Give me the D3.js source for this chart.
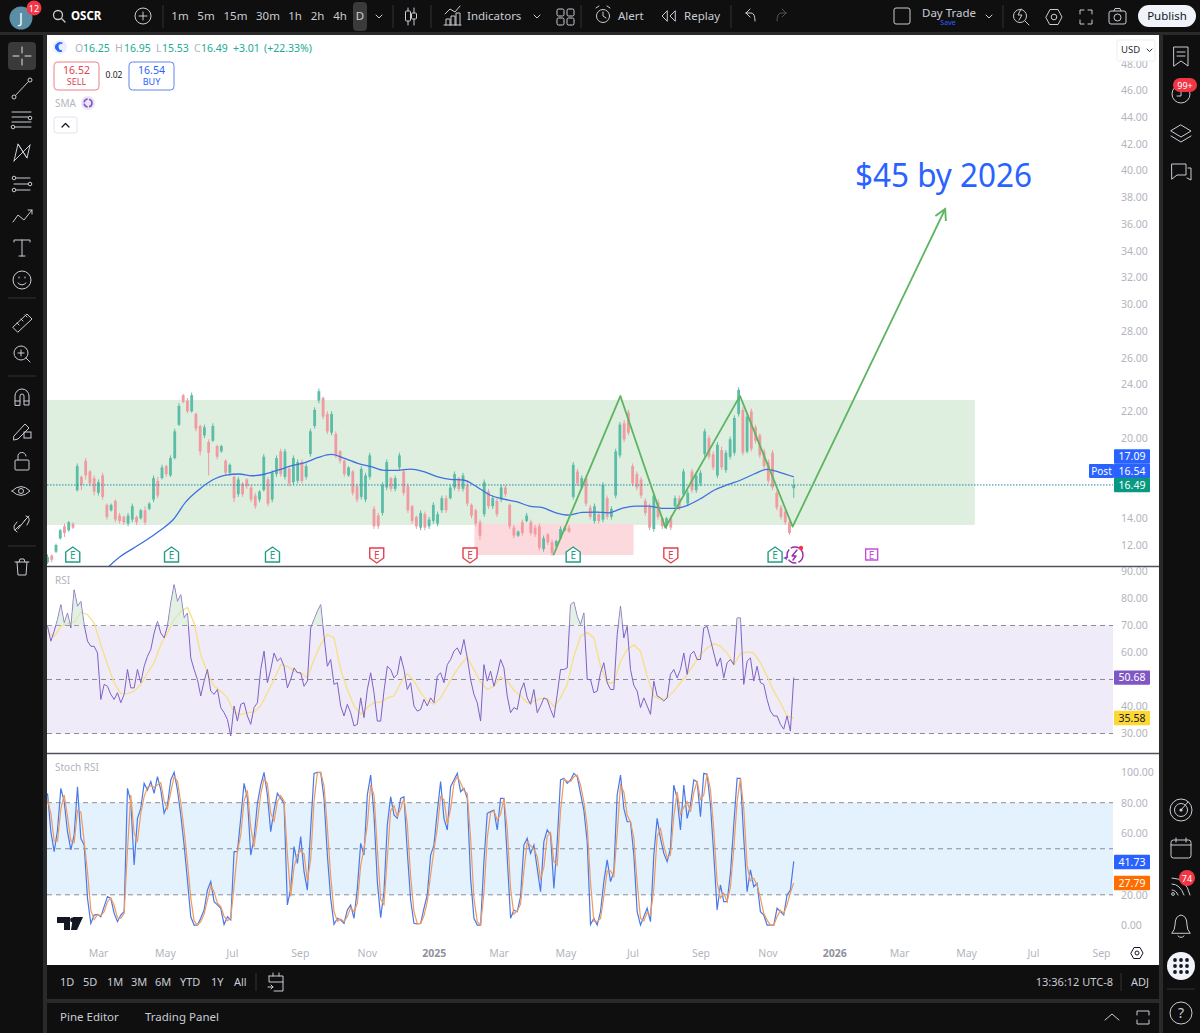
<!DOCTYPE html>
<html>
<head>
<meta charset="utf-8">
<title>OSCR</title>
<script src="https://cdn.jsdelivr.net/npm/d3@7"></script>
<style>
html, body { margin: 0; padding: 0; background: #0f0f0f; overflow: hidden; }
svg { display: block; font-family: "Noto Sans", sans-serif; }
</style>
</head>
<body>
<svg id="chart" width="1200" height="1033"></svg>
<script>
// Daily-ish candles
const highs = [11.3,11.3,12.1,13.2,13.6,13.8,13.7,18.1,17.2,18.5,
17.6,17.2,16.9,17.4,15.1,15.1,15.4,14.4,14.2,14.4,
15.1,14.2,14.7,14.9,15.2,17.2,17.1,18.0,18.0,18.7,
20.7,22.6,23.3,23.0,23.4,21.9,21.0,21.0,19.9,21.1,
19.5,19.5,18.4,18.1,17.2,17.1,16.7,17.0,16.5,15.9,
16.1,18.8,17.1,17.6,18.7,19.2,19.2,17.9,18.7,18.4,
18.4,18.1,20.7,22.3,23.7,23.1,22.0,22.0,20.5,19.1,
18.4,17.9,17.6,16.6,17.9,17.4,18.9,14.9,14.4,16.7,
18.4,17.1,17.2,18.9,17.6,16.6,15.0,14.2,14.6,14.5,
14.1,15.2,14.5,15.7,15.7,16.5,17.5,17.1,17.4,16.7,
15.1,14.7,13.9,16.9,16.2,15.7,15.5,16.5,16.5,15.1,
13.5,13.1,13.9,14.4,13.9,13.5,13.6,12.7,12.9,12.4,
12.4,13.4,13.4,13.5,18.2,17.7,17.2,17.2,15.0,15.1,
14.5,16.7,15.7,14.9,19.2,21.2,21.35,22.1,18.1,17.5,
17.1,15.5,15.1,15.9,15.4,14.1,14.1,14.2,15.7,15.7,
17.7,16.1,17.7,17.4,17.6,20.7,20.2,19.0,19.7,19.35,
19.1,20.1,21.7,23.8,22.3,21.85,22.2,21.0,20.35,19.2,
18.4,19.1,16.1,15.0,14.7,13.9,16.95];
const lows = [10.6,10.7,11.4,12.4,12.6,13.0,13.2,16.0,16.1,16.9,
16.4,15.7,15.7,15.4,13.9,14.5,13.7,13.6,13.5,13.4,
13.7,13.5,13.9,13.5,14.6,15.2,15.5,16.9,17.1,17.1,
18.4,20.9,22.6,21.85,21.9,20.5,18.7,20.0,17.2,19.7,
18.4,18.9,17.2,17.2,15.2,15.6,15.6,16.2,15.2,14.7,
15.2,16.0,14.9,15.2,17.1,17.1,16.9,16.4,16.5,16.6,
16.6,16.9,18.6,20.7,22.6,21.4,20.3,20.2,18.5,18.1,
17.1,17.1,15.7,15.2,15.4,15.2,16.9,13.2,13.2,14.2,
16.1,16.0,16.0,17.6,15.7,14.4,13.6,13.2,13.1,13.1,
13.2,13.6,13.4,14.4,14.4,15.4,16.1,16.0,16.0,14.9,
14.0,13.4,12.4,14.1,14.7,14.7,14.1,15.2,15.6,13.2,
12.5,12.6,12.7,13.7,12.7,12.6,11.6,11.5,12.0,11.2,
11.75,12.4,13.0,12.9,15.4,16.4,16.1,14.9,13.9,13.6,
13.6,13.7,13.9,13.9,15.5,18.5,19.7,20.2,16.4,16.1,
15.5,14.2,13.1,13.0,13.9,13.2,13.2,13.1,14.7,14.6,
15.6,14.9,15.9,15.9,16.4,18.6,18.4,17.6,17.0,17.6,
17.4,18.4,18.7,21.6,18.7,18.85,19.0,19.6,18.5,17.7,
16.6,16.1,14.6,13.9,13.5,12.75,15.53];
const opens = [10.7,11.2,11.5,12.5,13.4,13.1,13.6,16.1,17.1,18.3,
17.5,17.0,15.9,17.2,15.0,14.6,15.3,14.2,14.1,13.6,
13.9,14.1,14.0,14.6,14.7,15.4,16.8,17.0,17.9,17.2,
18.5,21.0,23.2,22.8,22.0,21.8,20.9,20.2,19.7,19.8,
19.4,19.0,18.3,17.4,17.1,15.8,16.6,16.9,16.3,15.7,
15.4,16.1,16.9,15.4,17.3,19.0,17.1,17.7,16.7,16.8,
18.2,17.1,18.8,20.9,22.8,23.0,21.8,20.4,20.3,19.0,
18.3,17.2,17.5,16.4,15.6,15.4,17.1,14.7,14.2,14.4,
16.3,17.0,16.2,17.8,17.5,16.4,14.9,14.1,13.3,14.3,
13.4,13.8,13.6,14.6,15.5,15.5,16.3,17.0,16.2,16.5,
15.0,14.6,13.7,14.3,16.0,14.9,15.3,15.4,16.3,15.0,
13.3,12.7,13.7,13.8,13.7,13.3,13.4,11.7,12.8,12.2,
11.9,12.5,13.1,13.3,15.6,17.5,16.3,17.0,14.8,13.8,
14.3,13.9,15.5,14.1,15.7,18.7,21.1,21.9,17.9,17.3,
16.9,15.3,14.9,13.2,15.2,14.0,13.4,14.0,14.9,15.5,
15.8,15.1,17.5,16.1,16.6,18.8,20.0,18.8,17.2,19.1,
17.6,18.6,18.9,21.8,22.1,19.0,22.0,20.8,20.2,19.0,
18.2,18.9,15.9,14.8,14.5,13.7,16.25];
const closes = [11.1,10.9,12.0,13.1,12.9,13.7,13.3,17.9,16.5,17.2,
16.6,16.0,16.7,15.6,14.1,15.0,13.9,13.8,13.7,14.2,
14.9,13.7,14.6,13.7,15.1,17.0,15.7,17.8,17.3,18.5,
20.5,22.4,22.7,22.0,23.2,20.7,19.0,20.8,18.9,20.9,
18.6,19.4,17.4,18.0,15.5,16.9,15.8,16.4,15.4,14.9,
16.0,18.6,15.1,17.4,18.5,17.3,19.0,16.6,18.5,18.2,
16.8,17.9,20.5,22.1,23.5,21.6,20.5,21.8,18.7,18.3,
17.3,17.8,15.9,15.4,17.7,17.2,18.7,13.4,13.4,16.5,
18.2,16.2,17.0,18.7,15.9,14.6,13.8,13.4,14.4,13.3,
13.9,15.0,14.3,15.5,14.6,16.3,17.3,16.2,17.2,15.1,
14.2,13.6,12.7,16.7,14.9,15.5,14.3,16.3,15.8,13.4,
12.7,13.0,12.9,14.2,12.9,12.8,11.8,12.5,12.2,11.4,
12.3,13.2,13.3,13.0,18.0,16.6,17.0,15.1,14.1,14.9,
13.8,16.5,14.1,14.7,19.0,21.0,19.9,20.4,16.6,16.3,
15.7,14.4,13.3,15.7,14.1,13.4,14.0,13.3,15.5,14.8,
17.5,15.9,16.1,17.2,17.4,20.5,18.6,17.8,19.5,17.8,
18.9,19.9,21.5,23.6,18.9,21.6,19.2,19.8,18.7,17.9,
16.8,16.3,14.8,14.1,13.7,12.9,16.49];

// 200 day SMA, starts a while after the first candle
const smaValues = [10.25,11.12,11.75,12.37,13.07,13.87,15.24,16.16,16.86,17.23,
17.31,17.18,17.31,17.61,17.93,18.16,18.55,18.78,18.48,18.11,
17.86,17.58,17.58,17.68,17.48,17.11,16.91,16.86,16.36,15.74,
15.44,15.24,14.91,14.79,14.41,14.24,14.44,14.46,14.41,14.74,
14.91,14.91,14.74,14.74,14.99,15.49,16.11,16.51,16.86,17.31,
17.66,17.41,17.09];

const rsiValues = [69.7,64.2,67.9,72.2,77.7,70.9,74.6,69.1,83.2,77.1,
78.9,70.3,64.2,62.3,62.3,59.8,42.6,48.2,47.5,44.5,
42.6,45.1,41.4,44.5,53.7,46.9,46.9,53.7,48.8,54.9,
58.6,61.1,67.2,71.5,67.2,65.4,69.7,78.3,85.1,78.9,
81.4,72.8,74.6,58.0,53.7,50.0,43.9,49.4,53.7,45.7,
44.5,46.3,39.6,37.7,35.2,29.1,40.2,34.6,40.8,41.4,
36.5,33.4,39.6,41.4,53.7,60.5,48.8,53.7,59.8,56.8,
58.0,54.9,46.9,50.0,54.3,52.5,52.5,47.5,49.4,69.1,
72.2,75.2,77.7,66.0,54.9,57.4,48.2,48.8,40.2,36.5,
40.8,37.7,32.8,33.4,43.2,35.9,46.3,52.5,45.1,34.6,
34.6,45.7,54.9,53.7,50.6,51.9,58.6,53.7,46.3,48.8,
40.2,38.3,38.9,42.6,40.2,43.2,41.4,
51.2,52.5,48.8,55.5,57.4,60.5,61.7,59.2,64.8,58.0,
50.0,44.5,41.4,34.6,55.5,49.4,53.1,47.5,51.9,57.4,
54.3,43.9,37.7,39.6,38.9,45.7,48.8,43.2,40.8,46.3,
37.7,40.2,43.2,42.6,38.9,35.9,44.5,53.7,53.7,54.3,
77.7,78.7,73.4,70.3,74.6,50.0,50.0,45.1,45.7,52.5,
56.2,48.8,46.3,46.3,66.6,77.1,65.4,69.7,53.7,47.8,
45.7,39.6,43.2,40.2,37.1,49.4,43.9,43.2,42.0,43.2,
51.9,53.7,50.6,53.7,59.8,51.9,59.2,60.5,57.4,57.4,
69.1,69.7,64.8,59.8,54.9,58.0,50.6,56.2,57.4,55.5,
72.8,72.8,48.2,56.8,58.0,49.4,54.9,48.8,48.2,42.6,
38.3,36.5,36.5,33.4,31.6,36.5,30.9,50.68];
const rsiMaValues = [67.2,66.0,69.7,70.7,71.2,75.0,74.0,70.9,62.9,55.5,
48.8,44.8,44.8,45.7,48.2,52.5,56.2,62.9,67.2,72.2,
75.2,76.7,70.9,59.2,52.5,47.5,45.7,43.2,37.7,37.0,
37.7,38.0,40.2,45.1,50.0,55.5,54.9,53.1,52.5,50.6,
57.4,62.9,66.6,65.4,53.7,46.3,40.2,37.1,39.6,41.4,
41.6,43.2,43.9,48.8,52.2,49.4,45.1,42.0,40.8,
43.2,47.5,51.9,55.5,58.2,53.7,49.0,46.3,47.5,51.0,
49.4,46.1,43.9,41.4,42.0,42.9,42.9,39.9,43.2,48.2,
58.6,66.0,67.5,65.4,54.9,48.8,48.8,56.8,61.1,62.8,
60.5,51.2,43.9,42.6,43.2,45.7,48.8,51.9,55.5,59.2,
61.7,63.3,62.3,59.8,55.5,59.6,60.2,59.8,56.2,51.2,
45.7,41.4,36.5,35.58];

const stochK = [86.1,61.1,48.1,62.2,89.4,80.7,61.1,49.2,59.0,90.4,
56.8,52.4,17.7,1.4,6.8,7.3,5.7,12.3,18.8,17.7,
7.9,2.5,6.8,9.0,89.4,80.7,39.4,69.8,76.3,92.6,
88.3,93.7,86.1,97.0,88.3,73.1,78.5,94.8,99.8,88.3,
72.0,52.4,29.6,5.7,0.3,0.3,4.7,10.1,23.1,28.6,
15.5,13.4,11.2,0.7,5.7,3.6,48.1,48.1,69.8,92.6,
82.8,45.9,56.8,79.6,91.5,99.8,85.0,61.1,75.2,86.1,
82.8,79.6,13.4,24.2,51.4,40.5,57.9,35.1,23.1,63.3,
99.1,99.8,99.8,82.8,45.9,17.7,0.7,4.7,3.6,1.4,
10.1,13.4,4.7,24.2,53.5,45.9,85.0,98.0,72.0,28.6,
5.1,22.0,65.5,83.9,72.0,69.8,82.8,83.9,48.1,16.6,
1.4,1.0,1.4,11.2,19.9,45.9,52.4,
74.2,93.7,69.8,62.2,90.4,94.8,99.1,87.2,89.4,82.8,
30.7,4.7,0.3,0.3,41.6,73.1,74.2,75.2,62.2,82.8,
82.8,43.8,4.7,10.1,9.0,18.8,52.4,56.8,47.0,52.4,
37.2,22.0,54.6,62.2,59.0,24.2,54.6,94.8,95.9,92.6,
94.8,99.1,97.0,86.1,75.2,54.6,0.7,4.7,0.3,9.0,
28.6,42.7,28.6,35.1,85.0,98.0,76.3,67.6,67.6,45.9,
9.0,0.3,5.7,11.2,2.5,45.9,69.8,56.8,47.0,41.6,
50.3,91.5,82.8,62.2,91.5,69.8,78.5,94.8,93.7,70.9,
99.1,98.5,78.5,45.9,10.1,26.4,15.5,15.5,34.0,65.5,
95.9,95.9,56.8,22.0,36.2,25.3,27.5,9.0,6.8,0.3,
0.3,0.3,11.2,9.0,6.8,19.9,23.1,41.73];
const stochD = [82,73,55,55,76,85,71,55,54,75,
74,55,35,10,4,7,6.5,9,15.5,18,
13,5,4.6,8,49,85,60,55,73,84,
90,91,90,91.5,93,81,76,87,97,94,
80,62,41,18,3,0.3,2.5,7.4,16.6,26,
22,14.5,12.3,6,3.2,4.6,26,48,59,81,
88,64,51,68,85.5,95.6,92.4,73,68,80.6,
84.5,81,46.5,19,38,46,49,46.5,29,43,
81,99.5,99.8,91,64,32,9,2.7,4.2,2.5,
5.8,11.8,9,14.5,39,50,65.5,91.5,85,50,
17,13.6,44,75,78,71,76,83,66,32,
9,1.2,1.2,6.3,15.6,33,49,
63,84,82,66,76,92.6,97,93,88,86,
57,17.7,2.5,0.3,21,57,73.6,74.7,68.7,72.5,
82.8,63,24,7.4,9.5,14,35.6,54.6,52,49.7,
45,30,38,58,60.6,41.6,39.4,74.7,95.3,94,
93.7,97,98,91.5,80.6,65,28,2.7,2.5,4.6,
19,35.6,35.6,32,60,91.5,87,72,67.6,57,
27.5,4.6,3,8.4,6.8,24,58,63,52,44,
46,71,87,72.5,77,80.6,74,86.6,94,82,
85,98.8,88.5,62,28,18,21,15.5,25,50,
80.7,95.9,76,39,29,30.7,26.4,18,7.9,3.5,
0.3,0.3,5.7,10,7.9,13.4,21.5,27.79];

// axis ticks, the ones hidden behind value tags are left out
const priceTicks = [12,14,20,22,24,26,28,30,32,34,36,38,40,42,44,46,48];
const rsiTicks = [30, 40, 60, 70, 80, 90];
const rsiLevels = [70, 50, 30];
const stochTicks = [0, 20, 60, 80, 100];
const stochLevels = [80, 50, 20];
const timeTickLabels = ["Mar","May","Jul","Sep","Nov","2025","Mar","May","Jul","Sep","Nov","2026","Mar","May","Jul","Sep"];
const timeTickDates = [[2024,2],[2024,4],[2024,6],[2024,8],[2024,10],[2025,0],[2025,2],[2025,4],[2025,6],[2025,8],[2025,10],[2026,0],[2026,2],[2026,4],[2026,6],[2026,8]]
    .map(d => new Date(d[0], d[1], 1));

// drawings on the chart
const pathDates = [new Date(2025,3,20), new Date(2025,5,20), new Date(2025,6,31), new Date(2025,9,7), new Date(2025,10,24), new Date(2026,3,12)];
const pathPrices = [11.25, 23.14, 13.3, 23.15, 13.37, 37.13];
const earningsDates = [new Date(2024,1,7), new Date(2024,4,7), new Date(2024,7,7), new Date(2024,10,10), new Date(2025,1,3), new Date(2025,4,8), new Date(2025,7,5), new Date(2025,10,8), new Date(2026,1,4)];
const earningsKinds = ["beat","beat","beat","miss","miss","beat","miss","beat","next"];

const firstBar = new Date(2024,0,15);
const lastBar = new Date(2025,10,25);
const smaStart = new Date(2024,2,9);

const svg = d3.select("#chart");
const white = "#c9ccd4";

// Time scale is shared by the three panes
const xTime = d3.scaleTime()
    .domain([new Date(2024,2,1), new Date(2026,8,1)])
    .range([98, 1101]);

// Evenly spaced series between two dates
function seriesX(values, from, to) {
    const t = d3.scaleLinear().domain([0, values.length - 1]).range([+from, +to]);
    return (_d, i) => xTime(new Date(t(i)));
}

const yPrice = d3.scaleLinear().domain([12, 46]).range([545, 90.4]);
const yRsi = d3.scaleLinear().domain([30, 70]).range([733.5, 625.5]);
const yStoch = d3.scaleLinear().domain([0, 100]).range([925.5, 772]);

const defs = svg.append("defs");
function clip(id, x, y, w, h) {
    defs.append("clipPath").attr("id", id).append("rect").attr("x", x).attr("y", y).attr("width", w).attr("height", h);
}
clip("clipMain", 47, 35, 1066, 531);
clip("clipRsi", 47, 567, 1066, 186);
clip("clipRsiOver", 47, 567, 1066, 58.5);
clip("clipStoch", 47, 754, 1066, 190);

defs.append("marker").attr("id", "arrowHead")
    .attr("viewBox", "0 0 12 12").attr("refX", 10).attr("refY", 6)
    .attr("markerWidth", 14).attr("markerHeight", 14).attr("markerUnits", "userSpaceOnUse")
    .attr("orient", "auto")
    .append("path").attr("d", "M1,1 L10,6 L1,11").attr("fill", "none").attr("stroke", "#5cb560").attr("stroke-width", 1.6);

function label(parent, x, y, str, opts) {
    const o = opts || {};
    return parent.append("text")
        .attr("x", x).attr("y", y)
        .attr("text-anchor", o.anchor || "start")
        .attr("font-size", o.size || 12)
        .attr("font-weight", o.weight || 400)
        .attr("fill", o.fill || white)
        .text(str);
}

function stroked(parent, d, opts) {
    const o = opts || {};
    return parent.append("path").attr("d", d)
        .attr("fill", o.fill || "none")
        .attr("stroke", o.stroke || white)
        .attr("stroke-width", o.width || 1)
        .attr("stroke-linecap", "round")
        .attr("stroke-linejoin", "round");
}

function at(x, y) {
    return svg.append("g").attr("transform", `translate(${x},${y})`);
}

// ---- panel frame ----
svg.append("rect").attr("width", 1200).attr("height", 1033).attr("fill", "#0f0f0f");
svg.append("rect").attr("x", 43).attr("y", 33).attr("width", 4).attr("height", 1000).attr("fill", "#2a2a2a");
svg.append("rect").attr("x", 1159).attr("y", 33).attr("width", 4).attr("height", 1000).attr("fill", "#2a2a2a");
svg.append("rect").attr("x", 0).attr("y", 32).attr("width", 1200).attr("height", 3).attr("fill", "#2a2a2a");
svg.append("rect").attr("x", 47).attr("y", 35).attr("width", 1112).attr("height", 930).attr("fill", "#fff");
svg.append("rect").attr("x", 47).attr("y", 999).attr("width", 1112).attr("height", 4).attr("fill", "#2a2a2a");

// ---- main pane ----
const main = svg.append("g").attr("clip-path", "url(#clipMain)");

main.append("rect")
    .attr("x", 47).attr("y", yPrice(22.85))
    .attr("width", xTime(new Date(2026,4,9)) - 47)
    .attr("height", yPrice(13.5) - yPrice(22.85))
    .attr("fill", "#deefdf");
main.append("rect")
    .attr("x", xTime(new Date(2025,1,7))).attr("y", yPrice(13.6))
    .attr("width", xTime(new Date(2025,6,2)) - xTime(new Date(2025,1,7)))
    .attr("height", yPrice(11.25) - yPrice(13.6))
    .attr("fill", "#fcd9dd");

const barX = seriesX(closes, firstBar, lastBar);
const barColor = i => closes[i] >= opens[i] ? "#5cbca8" : "#f09aa2";

main.selectAll("line.wick")
    .data(closes)
    .join("line")
    .attr("class", "wick")
    .attr("x1", barX).attr("x2", barX)
    .attr("y1", (_d, i) => yPrice(highs[i]))
    .attr("y2", (_d, i) => yPrice(lows[i]))
    .attr("stroke", (_d, i) => barColor(i))
    .attr("stroke-width", 1);

main.selectAll("rect.body")
    .data(closes)
    .join("rect")
    .attr("class", "body")
    .attr("x", (d, i) => barX(d, i) - 1.4)
    .attr("width", 2.8)
    .attr("y", (d, i) => yPrice(Math.max(d, opens[i])))
    .attr("height", (d, i) => Math.abs(yPrice(d) - yPrice(opens[i])))
    .attr("fill", (_d, i) => barColor(i));

const smaX = seriesX(smaValues, smaStart, lastBar);
main.append("path")
    .attr("d", d3.line().x(smaX).y(d => yPrice(d)).curve(d3.curveMonotoneX)(smaValues))
    .attr("fill", "none").attr("stroke", "#3f6fe0").attr("stroke-width", 1.3);

main.append("line")
    .attr("x1", 47).attr("x2", 1113)
    .attr("y1", yPrice(16.49)).attr("y2", yPrice(16.49))
    .attr("stroke", "#1f8aa0").attr("stroke-width", 1).attr("stroke-dasharray", "1.5 1.5");

main.append("path")
    .attr("d", d3.line().x(d => xTime(d)).y((_d, i) => yPrice(pathPrices[i]))(pathDates))
    .attr("fill", "none").attr("stroke", "#5cb560").attr("stroke-width", 1.8)
    .attr("stroke-linejoin", "round")
    .attr("marker-end", "url(#arrowHead)");

label(svg, 855, 187, "$45 by 2026", {size: 33, fill: "#2962ff"})
    .attr("textLength", 177).attr("lengthAdjust", "spacingAndGlyphs");

// earnings badges
const badgeColor = {beat: "#1f9e85", miss: "#e2404f", next: "#c64fdc"};
const badges = main.selectAll("g.badge")
    .data(earningsDates)
    .join("g")
    .attr("class", "badge")
    .attr("transform", d => `translate(${xTime(d)},555)`);
badges.append("path")
    .attr("d", (_d, i) => earningsKinds[i] === "miss"
        ? "M-7,-7 H7 V3 L0,8 L-7,3 Z"
        : earningsKinds[i] === "beat" ? "M-7,-3 L0,-8 L7,-3 V7 H-7 Z" : "M-6,-6 H6 V5 H-6 Z")
    .attr("fill", "#fff")
    .attr("stroke", (_d, i) => badgeColor[earningsKinds[i]])
    .attr("stroke-width", 1.4);
badges.append("text")
    .attr("text-anchor", "middle").attr("y", 4)
    .attr("font-size", 10)
    .attr("fill", (_d, i) => badgeColor[earningsKinds[i]])
    .text("E");

// dividends / split marker next to the last candle
const bolt = at(795, 555);
bolt.append("circle").attr("r", 8).attr("fill", "#fff").attr("stroke", "#9c27b0").attr("stroke-width", 1.4).attr("stroke-dasharray", "9 2");
stroked(bolt, "M2,-5 L-3,1 H1 L-2,5", {stroke: "#9c27b0", width: 1.4});
bolt.append("circle").attr("cx", 6).attr("cy", -7).attr("r", 2.2).attr("fill", "#f23645");
bolt.append("path").attr("d", "M-8,1 L-12,3 L-8,5 Z").attr("fill", "#7e57c2");

// ---- RSI pane ----
const rsiPane = svg.append("g").attr("clip-path", "url(#clipRsi)");
rsiPane.append("rect")
    .attr("x", 47).attr("y", yRsi(70))
    .attr("width", 1066).attr("height", yRsi(30) - yRsi(70))
    .attr("fill", "#f0ebf9");
rsiPane.selectAll("line.level")
    .data(rsiLevels)
    .join("line")
    .attr("class", "level")
    .attr("x1", 47).attr("x2", 1113)
    .attr("y1", d => yRsi(d)).attr("y2", d => yRsi(d))
    .attr("stroke", "#8a8d97").attr("stroke-dasharray", "5 4").attr("stroke-width", 1);

const rsiX = seriesX(rsiValues, firstBar, lastBar);
svg.append("g").attr("clip-path", "url(#clipRsiOver)").append("path")
    .attr("d", d3.area().x(rsiX).y0(yRsi(70)).y1(d => yRsi(d))(rsiValues))
    .attr("fill", "#cfe8d2").attr("opacity", 0.6);
rsiPane.append("path")
    .attr("d", d3.line().x(seriesX(rsiMaValues, firstBar, lastBar)).y(d => yRsi(d))(rsiMaValues))
    .attr("fill", "none").attr("stroke", "#f7df85").attr("stroke-width", 1.3);
rsiPane.append("path")
    .attr("d", d3.line().x(rsiX).y(d => yRsi(d))(rsiValues))
    .attr("fill", "none").attr("stroke", "#7e62c4").attr("stroke-width", 1);
label(svg, 55, 584, "RSI", {size: 10, fill: "#b2b5be"});

// ---- Stoch RSI pane ----
const stochPane = svg.append("g").attr("clip-path", "url(#clipStoch)");
stochPane.append("rect")
    .attr("x", 47).attr("y", yStoch(80))
    .attr("width", 1066).attr("height", yStoch(20) - yStoch(80))
    .attr("fill", "#e4f2fd");
stochPane.selectAll("line.level")
    .data(stochLevels)
    .join("line")
    .attr("class", "level")
    .attr("x1", 47).attr("x2", 1113)
    .attr("y1", d => yStoch(d)).attr("y2", d => yStoch(d))
    .attr("stroke", "#8a8d97").attr("stroke-dasharray", "5 4").attr("stroke-width", 1);
stochPane.append("path")
    .attr("d", d3.line().x(seriesX(stochK, firstBar, lastBar)).y(d => yStoch(d))(stochK))
    .attr("fill", "none").attr("stroke", "#4a78e8").attr("stroke-width", 1.2);
stochPane.append("path")
    .attr("d", d3.line().x(seriesX(stochD, firstBar, lastBar)).y(d => yStoch(d))(stochD))
    .attr("fill", "none").attr("stroke", "#ef9a5e").attr("stroke-width", 1.2);
label(svg, 55, 771, "Stoch RSI", {size: 10, fill: "#b2b5be"});

// tradingview logo
svg.append("path").attr("d", "M57,917 H70 V930 H64 V923 H57 Z M73,917 H83 L77,930 H71 Z").attr("fill", "#131722");
svg.append("circle").attr("cx", 72.5).attr("cy", 920).attr("r", 2.4).attr("fill", "#131722");

// pane separators
[566.5, 753.5].forEach(y => {
    svg.append("line").attr("x1", 47).attr("x2", 1159).attr("y1", y).attr("y2", y)
        .attr("stroke", "#50535e").attr("stroke-width", 1.4);
});

// ---- axes ----
function styleAxis(g) {
    g.select(".domain").remove();
    g.selectAll("text").attr("fill", "#b2b5be").attr("font-size", 10.5).attr("font-family", '"Noto Sans", sans-serif');
}
svg.append("g").attr("transform", "translate(1119,0)")
    .call(d3.axisRight(yPrice).tickValues(priceTicks).tickSize(0).tickPadding(2).tickFormat(d3.format(".2f")))
    .call(styleAxis);
svg.append("g").attr("transform", "translate(1119,0)")
    .call(d3.axisRight(yRsi).tickValues(rsiTicks).tickSize(0).tickPadding(2).tickFormat(d3.format(".2f")))
    .call(styleAxis);
svg.append("g").attr("transform", "translate(1119,0)")
    .call(d3.axisRight(yStoch).tickValues(stochTicks).tickSize(0).tickPadding(2).tickFormat(d3.format(".2f")))
    .call(styleAxis);
svg.append("g").attr("transform", "translate(0,947)")
    .call(d3.axisBottom(xTime).tickValues(timeTickDates).tickSize(0).tickPadding(3).tickFormat((_d, i) => timeTickLabels[i]))
    .call(styleAxis)
    .selectAll("text")
    .attr("fill", (_d, i) => /^\d/.test(timeTickLabels[i]) ? "#8f929c" : "#b2b5be")
    .attr("font-weight", (_d, i) => /^\d/.test(timeTickLabels[i]) ? 700 : 400);

// value tags on the price scale
function tag(y, str, bg, fg) {
    svg.append("rect").attr("x", 1114).attr("y", y - 7.2).attr("width", 36).attr("height", 14.4).attr("rx", 1).attr("fill", bg);
    label(svg, 1132, y + 3.8, str, {size: 10.5, anchor: "middle", fill: fg || "#fff"});
}
tag(456.5, "17.09", "#2962ff");
tag(471, "16.54", "#2962ff");
tag(yPrice(16.49), "16.49", "#089981");
svg.append("rect").attr("x", 1089).attr("y", 464).attr("width", 25).attr("height", 14).attr("rx", 1).attr("fill", "#2962ff");
label(svg, 1101.5, 475, "Post", {size: 10, anchor: "middle", fill: "#fff"});
tag(yRsi(50.68), "50.68", "#7e57c2");
tag(718, "35.58", "#fdd835", "#131722");
tag(862, "41.73", "#2962ff");
tag(883, "27.79", "#ff6d00");

// usd box
svg.append("rect").attr("x", 1117).attr("y", 40).attr("width", 38).attr("height", 21).attr("rx", 2).attr("fill", "#fff").attr("stroke", "#eceef2");
label(svg, 1121, 53, "USD", {size: 9.5, fill: "#2a2e39"});
stroked(svg, "M1147,49 L1149.5,51.5 L1152,49", {stroke: "#2a2e39"});

// ---- legend ----
stroked(at(60, 47), "M2,-4 A4.5,4.5 0 1 0 2,4 A3.6,3.6 0 0 1 2,-4 Z", {fill: "#2962ff", stroke: "#2962ff"});
svg.append("circle").attr("cx", 60).attr("cy", 47).attr("r", 7).attr("fill", "#2962ff").attr("opacity", 0.1);
const legendGreen = "#22ab94", legendGray = "#b2b5be";
[[75, "O", legendGray], [83, "16.25", legendGreen], [115, "H", legendGray], [124, "16.95", legendGreen],
 [156, "L", legendGray], [162, "15.53", legendGreen], [194, "C", legendGray], [201, "16.49", legendGreen],
 [233, "+3.01", legendGreen], [264, "(+22.33%)", legendGreen]]
    .forEach(d => label(svg, d[0], 52, d[1], {size: 10.5, fill: d[2]}));

svg.append("rect").attr("x", 54).attr("y", 62).attr("width", 45).attr("height", 28).attr("rx", 3.5).attr("fill", "#fff").attr("stroke", "#ee7f88").attr("stroke-width", 1);
label(svg, 76.5, 74, "16.52", {size: 10.5, anchor: "middle", fill: "#e0404f"});
label(svg, 76.5, 85, "SELL", {size: 9, anchor: "middle", fill: "#e0404f"});
label(svg, 114, 78, "0.02", {size: 8.5, anchor: "middle", fill: "#131722"});
svg.append("rect").attr("x", 129).attr("y", 62).attr("width", 45).attr("height", 28).attr("rx", 3.5).attr("fill", "#fff").attr("stroke", "#5d84ee").attr("stroke-width", 1);
label(svg, 151.5, 74, "16.54", {size: 10.5, anchor: "middle", fill: "#2962ff"});
label(svg, 151.5, 85, "BUY", {size: 9, anchor: "middle", fill: "#2962ff"});
label(svg, 55, 107, "SMA", {size: 10, fill: "#b2b5be"});
svg.append("circle").attr("cx", 88).attr("cy", 103).attr("r", 7).attr("fill", "#ede4f7");
svg.append("circle").attr("cx", 88).attr("cy", 103).attr("r", 4).attr("fill", "none").attr("stroke", "#7e57c2").attr("stroke-width", 1.6).attr("stroke-dasharray", "5 1.5");
svg.append("rect").attr("x", 54).attr("y", 117).attr("width", 23).attr("height", 16).attr("rx", 2.5).attr("fill", "#fff").attr("stroke", "#e0e3eb");
stroked(svg, "M62,127 L65.5,123.5 L69,127", {stroke: "#131722", width: 1.3});

// settings hexagon in the corner
stroked(at(1137, 953), "M-6,0 L-3,-5.5 H3 L6,0 L3,5.5 H-3 Z", {stroke: "#131722"});
svg.append("circle").attr("cx", 1137).attr("cy", 953).attr("r", 2).attr("fill", "none").attr("stroke", "#131722");

// ---- top bar ----
svg.append("circle").attr("cx", 21).attr("cy", 18).attr("r", 11.5).attr("fill", "#5a8da6");
label(svg, 21, 23, "J", {size: 14, anchor: "middle", fill: "#fff"});
svg.append("circle").attr("cx", 34).attr("cy", 8).attr("r", 7.5).attr("fill", "#f23645");
label(svg, 34, 11.5, "12", {size: 9, anchor: "middle", fill: "#fff"});
svg.append("circle").attr("cx", 58).attr("cy", 15).attr("r", 4.5).attr("fill", "none").attr("stroke", white).attr("stroke-width", 1.3);
stroked(svg, "M61.5,18.5 L65,22", {width: 1.3});
label(svg, 71, 20, "OSCR", {size: 11.5, weight: 700, fill: "#fff"});
svg.append("circle").attr("cx", 143).attr("cy", 16).attr("r", 8).attr("fill", "none").attr("stroke", white);
stroked(svg, "M139,16 H147 M143,12 V20");
svg.append("rect").attr("x", 353).attr("y", 2).attr("width", 14).attr("height", 29).attr("rx", 4).attr("fill", "#3a3a3a");
[[180, "1m"], [206, "5m"], [235.5, "15m"], [268, "30m"], [295, "1h"], [317.5, "2h"], [340, "4h"], [360, "D"]]
    .forEach(d => label(svg, d[0], 20, d[1], {size: 11.5, anchor: "middle"}));
stroked(svg, "M376,15 L379,18 L382,15");
[[163, 5, 28], [393, 5, 28], [431, 5, 28], [581, 5, 28], [731, 5, 28], [1003, 5, 28]].forEach(d => {
    svg.append("line").attr("x1", d[0]).attr("x2", d[0]).attr("y1", d[1]).attr("y2", d[2]).attr("stroke", "#333");
});
stroked(svg, "M408,8 V25 M414,8 V25");
svg.append("rect").attr("x", 405.5).attr("y", 11).attr("width", 5).attr("height", 10).attr("rx", 1).attr("fill", "#0f0f0f").attr("stroke", white);
svg.append("rect").attr("x", 411.5).attr("y", 13).attr("width", 5).attr("height", 6).attr("rx", 1).attr("fill", "#0f0f0f").attr("stroke", white);
stroked(svg, "M445,14 L450,9 L455,12 L460,6 M446,25 V19 H450 V25 M451,25 V16 H455 V25 M456,25 V13 H460 V25 M444,25 H461");
label(svg, 467, 20, "Indicators", {size: 11.5});
stroked(svg, "M534,15 L537,18 L540,15");
[[557, 9], [567, 9], [557, 18], [567, 18]].forEach(d => {
    svg.append("rect").attr("x", d[0]).attr("y", d[1]).attr("width", 7).attr("height", 7).attr("rx", 1.5).attr("fill", "none").attr("stroke", white);
});
svg.append("circle").attr("cx", 603).attr("cy", 16).attr("r", 6.5).attr("fill", "none").attr("stroke", white);
stroked(svg, "M603,12 V16 L606,18 M596,8 L599,6 M610,8 L607,6");
label(svg, 618, 20, "Alert", {size: 11.5});
stroked(svg, "M667,11 L662,16 L667,21 Z M675,11 L670,16 L675,21 Z");
label(svg, 684, 20, "Replay", {size: 11.5});
stroked(svg, "M746,13 L750,9 M746,13 L750,17 M746,13 H751 Q755,13 755,21");
stroked(svg, "M786,13 L782,9 M786,13 L782,17 M786,13 H781 Q777,13 777,21", {stroke: "#50535e"});
svg.append("rect").attr("x", 894).attr("y", 8).attr("width", 16).attr("height", 16).attr("rx", 2).attr("fill", "none").attr("stroke", white);
label(svg, 922, 16.5, "Day Trade", {size: 11.5});
label(svg, 948, 25, "Save", {size: 7, anchor: "middle", fill: "#2962ff"});
stroked(svg, "M986,15 L989,18 L992,15");
svg.append("circle").attr("cx", 1020).attr("cy", 16).attr("r", 6.5).attr("fill", "none").attr("stroke", white);
stroked(svg, "M1025,21 L1029,25 M1021,9 L1018,15 H1022 L1019,20");
stroked(at(1054, 17), "M-8,0 L-4,-7.5 H4 L8,0 L4,7.5 H-4 Z");
svg.append("circle").attr("cx", 1054).attr("cy", 17).attr("r", 2.8).attr("fill", "none").attr("stroke", white);
stroked(svg, "M1080,14 V10 H1084 M1088,10 H1092 V14 M1092,20 V24 H1088 M1084,24 H1080 V20");
svg.append("rect").attr("x", 1109).attr("y", 11).attr("width", 17).attr("height", 13).attr("rx", 2).attr("fill", "none").attr("stroke", white);
svg.append("circle").attr("cx", 1117.5).attr("cy", 17.5).attr("r", 3.5).attr("fill", "none").attr("stroke", white);
stroked(svg, "M1114,11 L1115,8.5 H1120 L1121,11");
svg.append("rect").attr("x", 1138).attr("y", 5).attr("width", 58).attr("height", 22).attr("rx", 11).attr("fill", "#f0f3fa");
label(svg, 1167, 20, "Publish", {size: 11.5, anchor: "middle", fill: "#131722"});

// ---- left toolbar ----
svg.append("rect").attr("x", 8).attr("y", 42).attr("width", 28).attr("height", 28).attr("rx", 4).attr("fill", "#3a3a3a");
stroked(svg, "M22,47 V53 M22,59 V65 M13,56 H19 M25,56 H31", {stroke: "#e0e3eb"});
stroked(svg, "M14,97 L29,81");
svg.append("circle").attr("cx", 14).attr("cy", 97).attr("r", 2).attr("fill", "#0f0f0f").attr("stroke", white);
svg.append("circle").attr("cx", 30).attr("cy", 80).attr("r", 2).attr("fill", "#0f0f0f").attr("stroke", white);
stroked(svg, "M12,112 H31 M12,117 H28 M12,122 H31 M15,127 H31");
svg.append("circle").attr("cx", 30).attr("cy", 118).attr("r", 1.8).attr("fill", "#0f0f0f").attr("stroke", white);
svg.append("circle").attr("cx", 13).attr("cy", 127).attr("r", 1.8).attr("fill", "#0f0f0f").attr("stroke", white);
stroked(svg, "M14,161 L18,144 L27,158 L30,145 M14,161 L30,145 M18,144 L27,158");
stroked(svg, "M14,178 H30 M14,184 H30 M14,190 H30");
[[14, 178], [30, 184], [14, 190]].forEach(d => {
    svg.append("circle").attr("cx", d[0]).attr("cy", d[1]).attr("r", 1.8).attr("fill", "#0f0f0f").attr("stroke", white);
});
stroked(svg, "M13,222 L18,215 L24,220 L32,210 M28,210 H32 V214");
stroked(svg, "M14,242 V240 H30 V242 M22,240 V256 M19,256 H25");
svg.append("circle").attr("cx", 22).attr("cy", 280).attr("r", 9).attr("fill", "none").attr("stroke", white);
stroked(svg, "M18,283 Q22,287 26,283 M19,277 V278 M25,277 V278");
[[8, 36, 298], [8, 36, 376], [8, 36, 546]].forEach(d => {
    svg.append("line").attr("x1", d[0]).attr("x2", d[1]).attr("y1", d[2]).attr("y2", d[2]).attr("stroke", "#333");
});
stroked(svg, "M13,327 L27,314 L32,319 L18,332 Z M17,323 L19,325 M21,319 L23,321 M25,315 L27,317");
svg.append("circle").attr("cx", 21).attr("cy", 353).attr("r", 7).attr("fill", "none").attr("stroke", white);
stroked(svg, "M18,353 H24 M21,350 V356 M26,358 L30,362");
stroked(svg, "M15,405 V396 A7,7 0 0 1 29,396 V405 H24 V396 A2,2 0 0 0 20,396 V405 Z M15,401 H20 M24,401 H29");
stroked(svg, "M14,436 L25,424 L29,428 L18,439 L14,440 Z");
svg.append("rect").attr("x", 24).attr("y", 432).attr("width", 7).attr("height", 6).attr("fill", "none").attr("stroke", white);
svg.append("rect").attr("x", 15).attr("y", 460).attr("width", 14).attr("height", 10).attr("rx", 1).attr("fill", "none").attr("stroke", white);
stroked(svg, "M18,460 V457 A4,4 0 0 1 26,456");
stroked(svg, "M12,491 Q21,482 30,491 Q21,500 12,491 Z");
svg.append("circle").attr("cx", 21).attr("cy", 491).attr("r", 2.5).attr("fill", "none").attr("stroke", white);
stroked(svg, "M15,530 L20,525 M24,521 L29,516 M17,522 L14,526 Q13,530 17,532 M27,525 L29,521 Q30,517 26,516 M18,529 L26,519");
stroked(svg, "M15,562 H29 M17,562 L18,575 H26 L27,562 M19,562 L20,559 H24 L25,562");

// ---- right toolbar ----
const rightX = 1181;
stroked(svg, `M${rightX-7},47 H${rightX+7} V66 L${rightX},61 L${rightX-7},66 Z M${rightX-4},52 H${rightX+4} M${rightX-4},56 H${rightX+4}`);
svg.append("circle").attr("cx", rightX).attr("cy", 94).attr("r", 9).attr("fill", "none").attr("stroke", white);
stroked(svg, `M${rightX},90 V96 H${rightX-4}`);
svg.append("rect").attr("x", 1173).attr("y", 78).attr("width", 24).attr("height", 14).attr("rx", 7).attr("fill", "#f23645");
label(svg, 1185, 89, "99+", {size: 9, anchor: "middle", fill: "#fff"});
stroked(svg, `M${rightX},125 L${rightX+10},131 L${rightX},137 L${rightX-10},131 Z M${rightX-10},136 L${rightX},142 L${rightX+10},136`);
stroked(svg, `M${rightX-9},164 H${rightX+5} V175 H${rightX-4} L${rightX-9},179 Z M${rightX+7},168 H${rightX+10} V180 L${rightX+6},178`);
svg.append("circle").attr("cx", rightX).attr("cy", 810).attr("r", 11).attr("fill", "none").attr("stroke", white);
svg.append("circle").attr("cx", rightX).attr("cy", 810).attr("r", 6.5).attr("fill", "none").attr("stroke", white);
svg.append("circle").attr("cx", rightX).attr("cy", 810).attr("r", 1.6).attr("fill", white);
stroked(svg, `M${rightX},810 L${rightX+7},802`);
svg.append("rect").attr("x", 1171).attr("y", 840).attr("width", 20).attr("height", 18).attr("rx", 2.5).attr("fill", "none").attr("stroke", white);
stroked(svg, "M1171,845 H1191 M1176,838 V842 M1186,838 V842");
stroked(svg, "M1172,878 Q1186,878 1190,895 M1172,884 Q1180,884 1184,895 M1172,890 Q1176,890 1178,895");
svg.append("circle").attr("cx", 1173).attr("cy", 894).attr("r", 1.4).attr("fill", "none").attr("stroke", white);
svg.append("circle").attr("cx", 1187).attr("cy", 878).attr("r", 8).attr("fill", "#f23645");
label(svg, 1187, 881.5, "74", {size: 9, anchor: "middle", fill: "#fff"});
stroked(svg, "M1172,933 Q1175,930 1175,925 Q1175,916 1181,915 Q1187,916 1187,925 Q1187,930 1190,933 Z M1178,936 Q1181,939 1184,936");
svg.append("circle").attr("cx", 1181).attr("cy", 966).attr("r", 14).attr("fill", "#f0f3fa");
d3.range(3).forEach(r => d3.range(3).forEach(c => {
    svg.append("circle").attr("cx", 1175 + c * 6).attr("cy", 960 + r * 6).attr("r", 1.9).attr("fill", "#131722");
}));
svg.append("line").attr("x1", 1167).attr("x2", 1195).attr("y1", 989).attr("y2", 989).attr("stroke", "#333");
svg.append("circle").attr("cx", 1181).attr("cy", 1013).attr("r", 11).attr("fill", "none").attr("stroke", white);
label(svg, 1181, 1018, "?", {size: 14, anchor: "middle"});

// ---- bottom bars ----
[[60, "1D"], [83, "5D"], [107, "1M"], [131, "3M"], [155, "6M"], [180, "YTD"], [211, "1Y"], [234, "All"]]
    .forEach(d => label(svg, d[0], 986, d[1], {size: 11}));
svg.append("line").attr("x1", 256).attr("x2", 256).attr("y1", 973).attr("y2", 991).attr("stroke", "#333");
stroked(svg, "M269,976 H283 V991 H274 M269,976 V982 H283 M273,973 V976 M279,973 V976 M268,987 H273 M271,985 L273,987 L271,989");
label(svg, 1113, 986, "13:36:12 UTC-8", {size: 11, anchor: "end"});
svg.append("line").attr("x1", 1121).attr("x2", 1121).attr("y1", 973).attr("y2", 991).attr("stroke", "#333");
label(svg, 1131, 986, "ADJ", {size: 11});
label(svg, 60, 1021, "Pine Editor", {size: 11.5});
label(svg, 145, 1021, "Trading Panel", {size: 11.5});
stroked(svg, "M1105,1020 L1112,1014 L1119,1020");
stroked(svg, "M1137,1015 V1011 H1149 V1015 M1149,1020 V1024 H1137 V1020");
</script>
</body>
</html>
